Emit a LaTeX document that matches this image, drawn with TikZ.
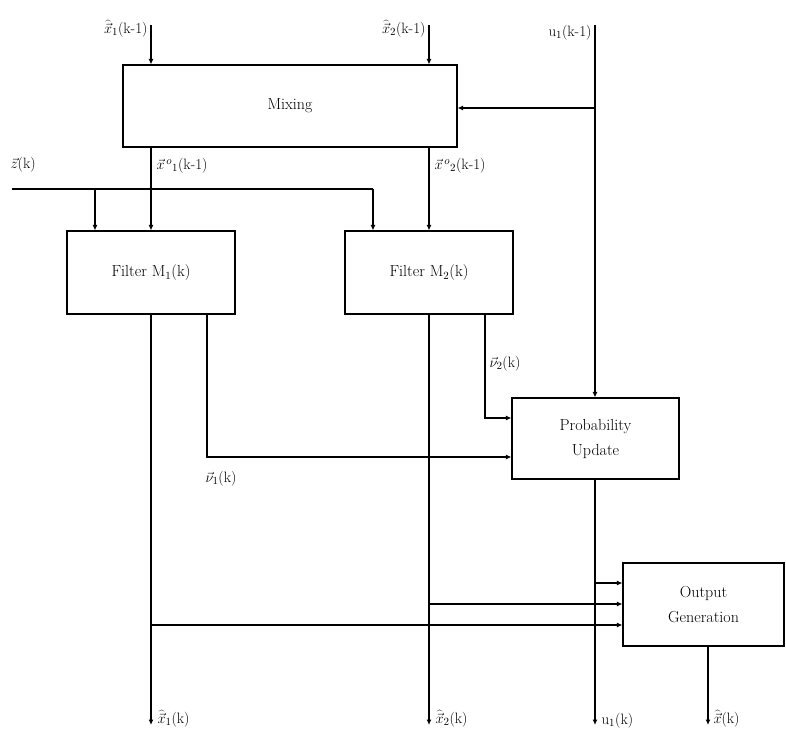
\documentclass[tikz,border=0pt]{standalone}
\usetikzlibrary{arrows.meta}
\begin{document}
\begin{tikzpicture}[x=1pt,y=-1pt,
  line width=1.1pt,
  blk/.style={draw, rectangle, inner sep=0pt, align=center, font=\fontsize{16}{25}\selectfont},
  arr/.style={-{Latex[length=5.5pt,width=5pt]}},
  lbl/.style={inner sep=1pt, font=\fontsize{15}{17}\selectfont}]
\useasboundingbox (0,0) rectangle (786,734);
% blocks
\node[blk, minimum width=334pt, minimum height=82pt] (mix) at (290,106) {Mixing};
\node[blk, minimum width=168pt, minimum height=83pt] (f1) at (151,272.5) {Filter M$_1$(k)};
\node[blk, minimum width=168pt, minimum height=83pt] (f2) at (429,272.5) {Filter M$_2$(k)};
\node[blk, minimum width=167pt, minimum height=81pt] (pu) at (595.5,438.5) {Probability\\Update};
\node[blk, minimum width=161pt, minimum height=83pt] (og) at (703.5,604.5) {Output\\Generation};
% coordinates
\coordinate (x1top) at (151,25);
\coordinate (x2top) at (429,25);
\coordinate (utop) at (595,25);
\coordinate (ubr) at (595,108);
\coordinate (zst) at (12,189);
\coordinate (z1) at (95,189);
\coordinate (zend) at (373,189);
\coordinate (n1) at (207,457);
\coordinate (n2) at (485,418);
\coordinate (b1) at (151,725);
\coordinate (b2) at (429,725);
\coordinate (bu) at (595,725);
\coordinate (bo) at (708,725);
\coordinate (g1) at (595,583);
\coordinate (g2) at (429,604);
\coordinate (g3) at (151,625);
% connectors
\draw[arr] (x1top) -- (x1top |- mix.north);
\draw[arr] (x2top) -- (x2top |- mix.north);
\draw[arr] (utop) -- (utop |- pu.north);
\draw[arr] (ubr) -- (ubr -| mix.east);
\draw[arr] (mix.south -| x1top) -- (x1top |- f1.north);
\draw[arr] (mix.south -| x2top) -- (x2top |- f2.north);
\draw (zst) -- (zend);
\draw[arr] (z1) -- (z1 |- f1.north);
\draw[arr] (zend) -- (zend |- f2.north);
\draw[arr] (f1.south -| b1) -- (b1);
\draw[arr] (f2.south -| b2) -- (b2);
\draw[arr] (f1.south -| n1) -- (n1) -- (n1 -| pu.west);
\draw[arr] (f2.south -| n2) -- (n2) -- (n2 -| pu.west);
\draw[arr] (pu.south -| bu) -- (bu);
\draw[arr] (g1) -- (g1 -| og.west);
\draw[arr] (g2) -- (g2 -| og.west);
\draw[arr] (g3) -- (g3 -| og.west);
\draw[arr] (og.south -| bo) -- (bo);
% labels
\node[lbl, anchor=east] (lx1) at (149,29) {$\widehat{\vec{x}}_1$(k-1)};
\node[lbl, anchor=east] (lx2) at (427,29) {$\widehat{\vec{x}}_2$(k-1)};
\node[lbl, anchor=east] (lu) at (593,33) {u$_1$(k-1)};
\node[lbl, anchor=west] (lz) at (9,165) {$\vec{z}$(k)};
\node[lbl, anchor=west] (lxo1) at (155,166) {$\vec{x}^{\,o}{}_1$(k-1)};
\node[lbl, anchor=west] (lxo2) at (433,166) {$\vec{x}^{\,o}{}_2$(k-1)};
\node[lbl, anchor=west] (ln2) at (488,364) {$\vec{\nu}_2$(k)};
\node[lbl, anchor=west] (ln1) at (204,479) {$\vec{\nu}_1$(k)};
\node[lbl, anchor=west] (lb1) at (156,719) {$\widehat{\vec{x}}_1$(k)};
\node[lbl, anchor=west] (lb2) at (434,719) {$\widehat{\vec{x}}_2$(k)};
\node[lbl, anchor=west] (lbu) at (600,721) {u$_1$(k)};
\node[lbl, anchor=west] (lbo) at (712,719) {$\widehat{\vec{x}}$(k)};
\end{tikzpicture}
\end{document}
